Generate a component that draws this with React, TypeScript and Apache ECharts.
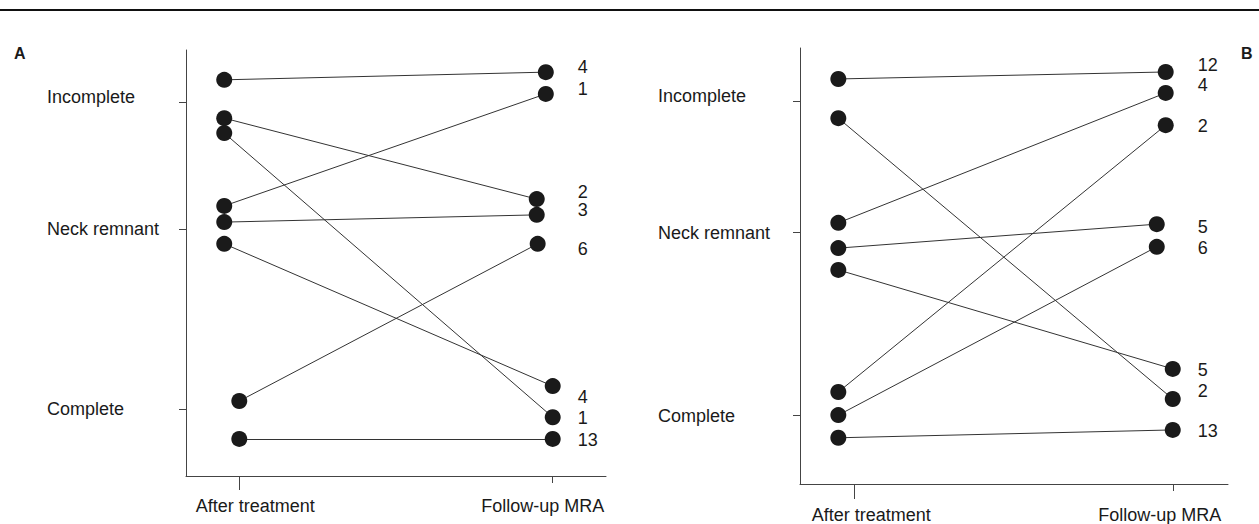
import React, { useEffect, useRef } from 'react';
import * as echarts from 'echarts';

// ---------- data ----------
const stageLabels = ['After treatment', 'Follow-up MRA'];
const outcomeLabels = ['Incomplete', 'Neck remnant', 'Complete'];

// positions of the outcome ticks on the (arbitrary 0-10) vertical scale
const outcomeTicksA = [8.78, 5.8, 1.57];
const outcomeLabelPosA = [8.9, 5.8, 1.57];
const outcomeTicksB = [8.78, 5.78, 1.58];
const outcomeLabelPosB = [8.9, 5.76, 1.56];

// stage label positions (x scale: After treatment = 1, Follow-up MRA = 2)
const stageLabelPosA = [1.051, 1.968];
const stageLabelPosB = [1.053, 1.956];

// Panel A
const afterXA = [0.952, 0.952, 0.952, 0.952, 0.952, 0.952, 1.0, 1.0];
const afterYA = [9.3, 8.4, 8.05, 6.34, 5.96, 5.45, 1.76, 0.87];
const followXA = [1.978, 1.949, 2.0, 1.978, 1.949, 2.0, 1.952, 2.0];
const followYA = [9.48, 6.5, 1.38, 8.97, 6.13, 2.11, 5.45, 0.87];
const countsA = ['4', '2', '1', '1', '3', '4', '6', '13'];
const countYA = [9.6, 6.67, 1.36, 9.08, 6.24, 1.85, 5.33, 0.85];
const countXA = 2.08;

// Panel B
const afterXB = [0.95, 0.95, 0.95, 0.95, 0.95, 0.95, 0.95, 0.95];
const afterYB = [9.29, 8.39, 5.99, 5.41, 4.91, 2.11, 1.58, 1.06];
const followXB = [1.975, 1.997, 1.975, 1.947, 1.997, 1.975, 1.947, 1.997];
const followYB = [9.45, 1.95, 8.97, 5.96, 2.64, 8.23, 5.44, 1.24];
const countsB = ['12', '2', '4', '5', '5', '2', '6', '13'];
const countYB = [9.61, 2.13, 9.15, 5.89, 2.61, 8.21, 5.41, 1.22];
const countXB = 2.075;

// ---------- styling ----------
const FONT = '"Liberation Sans", Arial, Helvetica, sans-serif';
const TEXT = '#1a1a1a';
const AXIS = '#444';
const DOT = '#1a1a1a';
const LINE = '#333';

function nearestLabel(val: number, pos: number[], labels: string[]) {
  for (let i = 0; i < pos.length; i++) {
    if (Math.abs(pos[i] - val) < 0.005) return labels[i];
  }
  return '';
}

type Grid = { left: number; top: number; width: number; height: number };

function buildPanel(
  idx: number,
  grid: Grid,
  p: {
    ticks: number[];
    labelPos: number[];
    stagePos: number[];
    ax: number[];
    ay: number[];
    fx: number[];
    fy: number[];
    counts: string[];
    countY: number[];
    countX: number;
    yMargin: number;
    xMargin: number;
    afterTickLen: number;
  }
) {
  // main axes live in grid idx; a twin grid (idx + 2) carries the short Follow-up tick
  const xMain = {
    type: 'value',
    gridIndex: idx,
    position: 'bottom',
    min: 0.83,
    max: 2.17,
    splitLine: { show: false },
    axisLine: { show: true, onZero: false, lineStyle: { color: AXIS, width: 1 } },
    axisTick: {
      show: true,
      customValues: [1],
      length: p.afterTickLen,
      lineStyle: { color: AXIS, width: 1 },
    },
    axisLabel: {
      show: true,
      customValues: p.stagePos,
      formatter: (v: number) => nearestLabel(v, p.stagePos, stageLabels),
      color: TEXT,
      fontSize: 18,
      fontFamily: FONT,
      margin: p.xMargin,
    },
  };
  const xTwin = {
    type: 'value',
    gridIndex: idx + 2,
    position: 'bottom',
    min: 0.83,
    max: 2.17,
    splitLine: { show: false },
    axisLine: { show: false, onZero: false },
    axisTick: {
      show: true,
      customValues: [2],
      length: 7,
      lineStyle: { color: AXIS, width: 1 },
    },
    axisLabel: { show: false },
  };
  const yMain = {
    type: 'value',
    gridIndex: idx,
    position: 'left',
    min: 0,
    max: 10,
    splitLine: { show: false },
    axisLine: { show: true, onZero: false, lineStyle: { color: AXIS, width: 1 } },
    axisTick: {
      show: true,
      customValues: p.ticks,
      length: 7,
      lineStyle: { color: AXIS, width: 1 },
    },
    axisLabel: {
      show: true,
      customValues: p.labelPos,
      formatter: (v: number) => nearestLabel(v, p.labelPos, outcomeLabels),
      color: TEXT,
      fontSize: 18,
      fontFamily: FONT,
      align: 'left',
      margin: p.yMargin,
    },
  };
  const yTwin = {
    type: 'value',
    gridIndex: idx + 2,
    min: 0,
    max: 10,
    show: false,
  };
  const series = [
    {
      type: 'lines',
      coordinateSystem: 'cartesian2d',
      xAxisIndex: idx,
      yAxisIndex: idx,
      silent: true,
      lineStyle: { color: LINE, width: 1, opacity: 1, curveness: 0 },
      data: p.ax.map((x, i) => ({
        coords: [
          [x, p.ay[i]],
          [p.fx[i], p.fy[i]],
        ],
      })),
      z: 2,
    },
    {
      type: 'scatter',
      xAxisIndex: idx,
      yAxisIndex: idx,
      symbol: 'circle',
      symbolSize: 16,
      itemStyle: { color: DOT, opacity: 1 },
      data: p.ax.map((x, i) => [x, p.ay[i]]),
      z: 3,
    },
    {
      type: 'scatter',
      xAxisIndex: idx,
      yAxisIndex: idx,
      symbol: 'circle',
      symbolSize: 16,
      itemStyle: { color: DOT, opacity: 1 },
      data: p.fx.map((x, i) => [x, p.fy[i]]),
      z: 3,
    },
    {
      type: 'scatter',
      xAxisIndex: idx,
      yAxisIndex: idx,
      symbol: 'circle',
      symbolSize: 0,
      itemStyle: { color: DOT },
      label: {
        show: true,
        position: 'right',
        distance: 0,
        formatter: (d: any) => p.counts[d.dataIndex],
        color: TEXT,
        opacity: 1,
        textBorderWidth: 0,
        fontSize: 18,
        fontFamily: FONT,
      },
      data: p.countY.map((y) => [p.countX, y]),
      z: 4,
    },
  ];
  return { grid, xMain, xTwin, yMain, yTwin, series };
}

export default function App() {
  const ref = useRef<HTMLDivElement>(null);
  useEffect(() => {
    if (!ref.current) return;
    const chart = echarts.init(ref.current, null, { renderer: 'svg' });
    const A = buildPanel(
      0,
      { left: 186, top: 50, width: 420, height: 426 },
      {
        ticks: outcomeTicksA,
        labelPos: outcomeLabelPosA,
        stagePos: stageLabelPosA,
        ax: afterXA,
        ay: afterYA,
        fx: followXA,
        fy: followYA,
        counts: countsA,
        countY: countYA,
        countX: countXA,
        yMargin: 139,
        xMargin: 21,
        afterTickLen: 14,
      }
    );
    const B = buildPanel(
      1,
      { left: 800, top: 48, width: 428, height: 436 },
      {
        ticks: outcomeTicksB,
        labelPos: outcomeLabelPosB,
        stagePos: stageLabelPosB,
        ax: afterXB,
        ay: afterYB,
        fx: followXB,
        fy: followYB,
        counts: countsB,
        countY: countYB,
        countX: countXB,
        yMargin: 142,
        xMargin: 22,
        afterTickLen: 15,
      }
    );
    chart.setOption({
      animation: false,
      backgroundColor: '#fff',
      grid: [A.grid, B.grid, A.grid, B.grid],
      xAxis: [A.xMain, B.xMain, A.xTwin, B.xTwin],
      yAxis: [A.yMain, B.yMain, A.yTwin, B.yTwin],
      series: [...A.series, ...B.series],
      graphic: [
        {
          type: 'line',
          shape: { x1: 0, y1: 10, x2: 1259, y2: 10 },
          style: { stroke: '#111', lineWidth: 2 },
        },
        {
          type: 'text',
          left: 14,
          top: 45,
          style: { text: 'A', fontSize: 16, fontWeight: 'bold', fontFamily: FONT, fill: TEXT },
        },
        {
          type: 'text',
          left: 1241,
          top: 45,
          style: { text: 'B', fontSize: 16, fontWeight: 'bold', fontFamily: FONT, fill: TEXT },
        },
      ],
    });
    return () => chart.dispose();
  }, []);
  return (
    <div
      ref={ref}
      style={{ position: 'fixed', left: 0, top: 0, width: 1259, height: 524, background: '#fff' }}
    />
  );
}
